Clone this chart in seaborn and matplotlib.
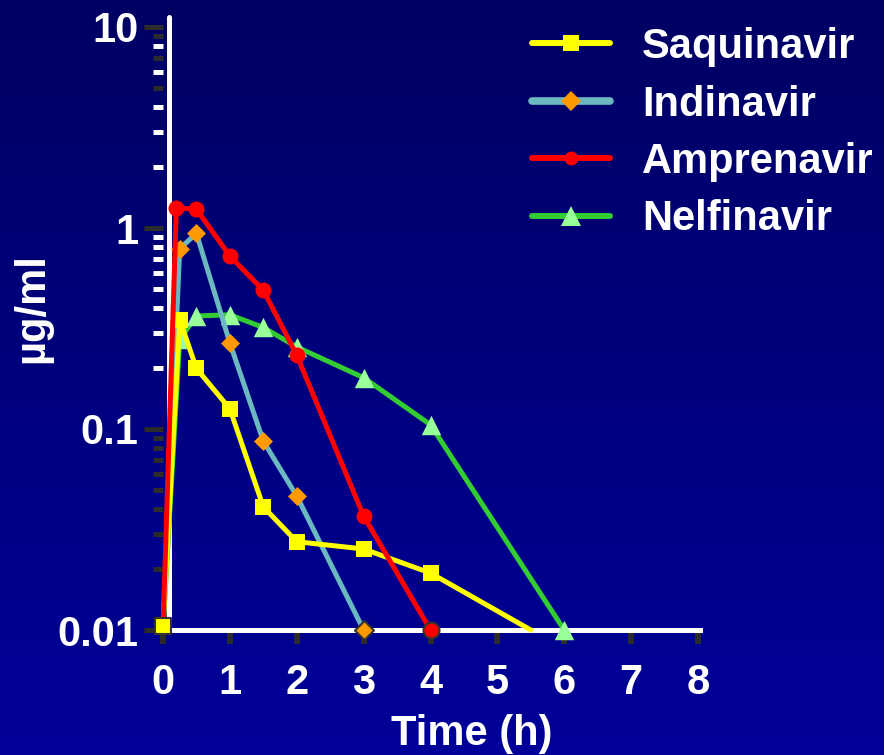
import numpy as np
import pandas as pd
import matplotlib
matplotlib.use("Agg")
import matplotlib.pyplot as plt
import seaborn as sns
from matplotlib.lines import Line2D
from matplotlib.ticker import FixedLocator, NullFormatter

# ---------------- data ----------------
drugs = ["Saquinavir", "Indinavir", "Amprenavir", "Nelfinavir"]

saq_time = [0, 0.25, 0.5, 1, 1.5, 2, 3, 4, 5.5]
saq_conc = [0.0105, 0.35, 0.2, 0.126, 0.041, 0.0275, 0.0253, 0.0192, 0.01]

ind_time = [0, 0.25, 0.5, 1, 1.5, 2, 3]
ind_conc = [0.01, 0.79, 0.94, 0.268, 0.087, 0.0464, 0.01]

amp_time = [0, 0.2, 0.5, 1, 1.5, 2, 3, 4]
amp_conc = [0.01, 1.26, 1.24, 0.725, 0.49, 0.233, 0.0369, 0.01]

nel_time = [0, 0.25, 0.5, 1, 1.5, 2, 3, 4, 6]
nel_conc = [0.01, 0.28, 0.365, 0.37, 0.32, 0.256, 0.18, 0.105, 0.01]

# which points show a marker / which floor markers have an outline
saq_marker = [True] * 8 + [False]
ind_marker = [False] + [True] * 6
amp_marker = [False] + [True] * 7
nel_marker = [False] + [True] * 8
saq_edge = [True] + [False] * 8
ind_edge = [False] * 6 + [True]
amp_edge = [False] * 7 + [True]
nel_edge = [False] * 9

x_ticks = [0, 1, 2, 3, 4, 5, 6, 7, 8]
y_ticks = [0.01, 0.1, 1, 10]
y_tick_labels = ["0.01", "0.1", "1", "10"]

x_label = "Time (h)"
y_label = "µg/ml"

# ---------------- styles ----------------
line_colors = {"Saquinavir": "#FFFF00", "Indinavir": "#6BB8C0",
               "Amprenavir": "#FF0000", "Nelfinavir": "#33CC33"}
marker_colors = {"Saquinavir": "#FFFF00", "Indinavir": "#FF9900",
                 "Amprenavir": "#FF0000", "Nelfinavir": "#99FF99"}
marker_shapes = {"Saquinavir": "s", "Indinavir": "D",
                 "Amprenavir": "o", "Nelfinavir": "^"}
marker_sizes = {"Saquinavir": 12.0, "Indinavir": 9.7,
                "Amprenavir": 11.5, "Nelfinavir": 14.0}

frames = []
for d, t, c, m, e in [
    ("Saquinavir", saq_time, saq_conc, saq_marker, saq_edge),
    ("Indinavir", ind_time, ind_conc, ind_marker, ind_edge),
    ("Amprenavir", amp_time, amp_conc, amp_marker, amp_edge),
    ("Nelfinavir", nel_time, nel_conc, nel_marker, nel_edge),
]:
    frames.append(pd.DataFrame({"drug": d, "time": t, "conc": c,
                                "marker": m, "edge": e}))
df = pd.concat(frames, ignore_index=True)

sns.set_theme(style="white")
plt.rcParams["font.family"] = ["Liberation Sans", "DejaVu Sans"]
plt.rcParams["font.weight"] = "bold"

W, H = 884, 755
fig = plt.figure(figsize=(W / 100, H / 100), dpi=100)

# gradient background
bg = fig.add_axes([0, 0, 1, 1], zorder=-10)
grad = np.linspace(0, 1, 256).reshape(-1, 1)
top = np.array([0, 0, 0.39])
bot = np.array([0, 0, 0.60])
img = top[None, None, :] * (1 - grad[:, :, None]) + bot[None, None, :] * grad[:, :, None]
bg.imshow(img, aspect="auto", extent=[0, 1, 0, 1])
bg.axis("off")

ax = fig.add_axes([163 / W, 1 - 630 / H, 535 / W, 603 / H])
ax.set_facecolor("none")
ax.set_yscale("log")

draw_order = ["Nelfinavir", "Indinavir", "Saquinavir", "Amprenavir"]
for i, d in enumerate(draw_order):
    z = 3 + 2 * i
    sub = df[df.drug == d]
    sns.lineplot(data=sub, x="time", y="conc", color=line_colors[d],
                 estimator=None, sort=False, linewidth=3.6, legend=False,
                 ax=ax, zorder=z, solid_capstyle="round", clip_on=False)
    msub = sub[sub.marker]
    plain = msub[~msub.edge]
    edged = msub[msub.edge]
    ms = marker_sizes[d]
    sns.scatterplot(data=plain, x="time", y="conc", marker=marker_shapes[d],
                    color=marker_colors[d], s=ms ** 2, linewidth=0,
                    legend=False, ax=ax, zorder=z + 1, clip_on=False)
    if len(edged):
        sns.scatterplot(data=edged, x="time", y="conc", marker=marker_shapes[d],
                        color=marker_colors[d], s=ms ** 2, linewidth=1.5,
                        edgecolor="#333333", legend=False, ax=ax,
                        zorder=20 + i, clip_on=False)

ax.set_xlim(0, 8)
ax.set_ylim(0.01, 10)

# axes lines
for s in ["top", "right", "left"]:
    ax.spines[s].set_visible(False)
ax.spines["bottom"].set_color("white")
ax.spines["bottom"].set_linewidth(3.6)
ax.spines["bottom"].set_bounds(0.09, 8.03)
ax.spines["bottom"].set_zorder(2)
ax.axvline(0.09, ymin=0, ymax=1 + 10 / 603, color="white", lw=3.6,
           clip_on=False, zorder=2)

# ticks
ax.set_xticks(x_ticks)
ax.set_xticklabels([str(v) for v in x_ticks])
ax.set_yticks(y_ticks)
ax.set_yticklabels(y_tick_labels)
minor_locs = [m * 10.0 ** e for e in (-2, -1, 0) for m in range(2, 10)]
ax.yaxis.set_minor_locator(FixedLocator(minor_locs))
ax.yaxis.set_minor_formatter(NullFormatter())

ax.tick_params(axis="x", which="major", direction="out", length=10, width=4.3,
               color="#2b2b2b", pad=14, labelsize=30, labelcolor="white",
               bottom=True)
ax.tick_params(axis="y", which="major", direction="out", length=13.5, width=3.6,
               color="#2b2b2b", pad=4, labelsize=30, labelcolor="white", left=True)
ax.tick_params(axis="y", which="minor", direction="out", length=7.2, width=3.6,
               color="white", left=True)
for lab in ax.get_xticklabels() + ax.get_yticklabels():
    lab.set_fontweight("bold")

mticks = ax.yaxis.get_minor_ticks(len(minor_locs))
for v, t in zip(minor_locs, mticks):
    if v < 0.1 or (v > 1 and round(v) in (5, 7, 9)):
        t.tick1line.set_markeredgecolor("#2b2b2b")
        t.tick1line.set_color("#2b2b2b")

ax.set_xlabel(x_label, fontsize=30, fontweight="bold", color="white")
ax.xaxis.set_label_coords((472 - 163) / 535, -(745 - 630) / 603)
ax.xaxis.label.set_va("baseline")
ax.set_ylabel(y_label, fontsize=30, fontweight="bold", color="white")
ax.yaxis.set_label_coords((32 - 163) / 535, (630 - 308) / 603)
ax.yaxis.label.set_ha("center")
ax.yaxis.label.set_va("center")

# legend
handles = []
leg_lw = {"Saquinavir": 4.3, "Indinavir": 5.5, "Amprenavir": 4.3, "Nelfinavir": 4.3}
leg_ms = {"Saquinavir": 12.0, "Indinavir": 9.7, "Amprenavir": 10.0, "Nelfinavir": 14.4}
for d in drugs:
    handles.append(Line2D([], [], color=line_colors[d], lw=leg_lw[d],
                          marker=marker_shapes[d], markersize=leg_ms[d],
                          markerfacecolor=marker_colors[d], markeredgewidth=0))
fig.legend(handles, drugs, loc="upper left",
           bbox_to_anchor=(532 / W, 1 - 27 / H), frameon=False,
           borderpad=0, borderaxespad=0, handlelength=1.87,
           handletextpad=0.77, labelspacing=0.42,
           prop={"family": ["Liberation Sans", "DejaVu Sans"],
                 "weight": "bold", "size": 30},
           labelcolor="white")

fig.savefig("out.png", dpi=100)
